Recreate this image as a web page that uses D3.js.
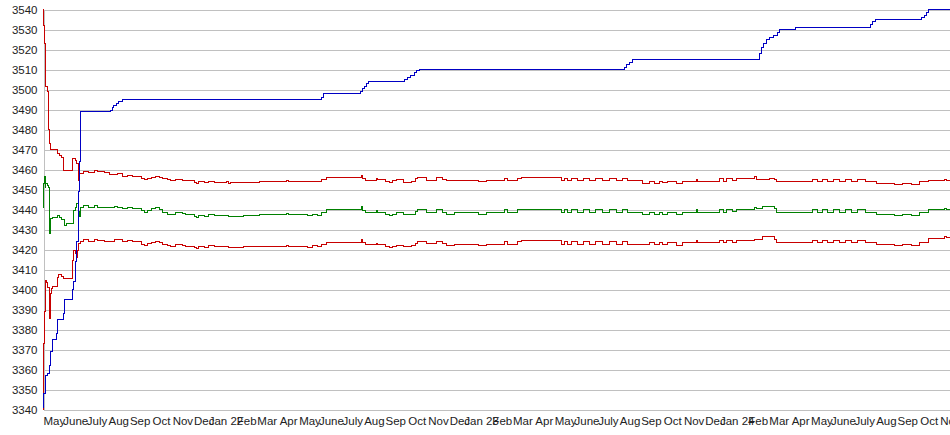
<!DOCTYPE html>
<html>
<head>
<meta charset="utf-8">
<script src="https://cdn.jsdelivr.net/npm/d3@7"></script>
<style>
  body { margin: 0; background: #ffffff; }
  svg { display: block; }
  .axis text { font-family: "Liberation Sans", Arial, sans-serif; fill: #222222; }
  .yaxis text { font-size: 11.5px; }
  .xaxis text { font-size: 11.5px; }
</style>
</head>
<body>
<div id="chart"></div>
<script>
// ---- data ----
var monthNames = ["Jan", "Feb", "Mar", "Apr", "May", "June", "July", "Aug", "Sep", "Oct", "Nov", "Dec"];
var yTicks = [3340, 3350, 3360, 3370, 3380, 3390, 3400, 3410, 3420, 3430, 3440, 3450, 3460, 3470, 3480, 3490, 3500, 3510, 3520, 3530, 3540];
var firstDay = "2021-05-01";
var lastDay = "2024-11-16";

// blue running line: [date, value]
var bluePoints = [
  ["2021-05-01", 3341], ["2021-05-02", 3348], ["2021-05-04", 3357], ["2021-05-08", 3358],
  ["2021-05-10", 3362], ["2021-05-12", 3369], ["2021-05-14", 3372], ["2021-05-15", 3375],
  ["2021-05-20", 3378], ["2021-05-22", 3385], ["2021-05-30", 3388], ["2021-05-31", 3395],
  ["2021-06-12", 3400], ["2021-06-14", 3404], ["2021-06-16", 3414], ["2021-06-18", 3424],
  ["2021-06-20", 3431], ["2021-06-21", 3449], ["2021-06-22", 3464], ["2021-06-23", 3489],
  ["2021-08-05", 3489.5], ["2021-08-08", 3491], ["2021-08-10", 3492], ["2021-08-14", 3493],
  ["2021-08-17", 3494], ["2021-08-22", 3495], ["2022-06-02", 3496], ["2022-06-05", 3497.3],
  ["2022-06-06", 3498], ["2022-07-28", 3499], ["2022-07-31", 3500.3], ["2022-08-03", 3501.7],
  ["2022-08-06", 3503], ["2022-08-09", 3504], ["2022-09-29", 3505], ["2022-10-03", 3506],
  ["2022-10-07", 3507], ["2022-10-13", 3508.3], ["2022-10-16", 3509.3], ["2022-10-20", 3510],
  ["2023-08-09", 3511], ["2023-08-12", 3512.3], ["2023-08-16", 3513.7], ["2023-08-21", 3515],
  ["2024-02-18", 3518], ["2024-02-21", 3521], ["2024-02-24", 3523], ["2024-02-28", 3525],
  ["2024-03-03", 3526], ["2024-03-09", 3527], ["2024-03-14", 3528.7], ["2024-03-17", 3530],
  ["2024-04-10", 3531], ["2024-07-26", 3532.5], ["2024-07-29", 3534], ["2024-08-01", 3535],
  ["2024-10-06", 3536], ["2024-10-11", 3537], ["2024-10-14", 3538.7], ["2024-10-17", 3540],
  ["2024-11-16", 3540]
];

// first weeks, before the three band lines settle
var upperStart = [
  ["2021-05-01", 3540], ["2021-05-02", 3532], ["2021-05-03", 3523], ["2021-05-04", 3501.5],
  ["2021-05-07", 3500.5], ["2021-05-08", 3499], ["2021-05-09", 3480], ["2021-05-10", 3473],
  ["2021-05-12", 3470], ["2021-05-21", 3468], ["2021-05-24", 3467], ["2021-05-28", 3466],
  ["2021-05-30", 3459.5], ["2021-06-12", 3465.5], ["2021-06-17", 3464.5], ["2021-06-18", 3463],
  ["2021-06-20", 3458.5], ["2021-06-21", 3454.5], ["2021-06-22", 3458]
];
var meanStart = [
  ["2021-05-01", 3441], ["2021-05-02", 3453], ["2021-05-03", 3456.5], ["2021-05-04", 3451],
  ["2021-05-05", 3453], ["2021-05-08", 3452], ["2021-05-09", 3451], ["2021-05-10", 3428],
  ["2021-05-11", 3435.5], ["2021-05-15", 3436], ["2021-05-22", 3437], ["2021-05-25", 3436],
  ["2021-05-28", 3435], ["2021-05-31", 3432], ["2021-06-04", 3433], ["2021-06-13", 3439.5],
  ["2021-06-17", 3441], ["2021-06-18", 3443], ["2021-06-20", 3439], ["2021-06-22", 3436.5]
];
var lowerStart = [
  ["2021-05-01", 3340], ["2021-05-02", 3373], ["2021-05-03", 3389], ["2021-05-04", 3404.5],
  ["2021-05-06", 3403.5], ["2021-05-08", 3401], ["2021-05-10", 3385.3], ["2021-05-11", 3398],
  ["2021-05-13", 3400.3], ["2021-05-15", 3401.5], ["2021-05-21", 3406], ["2021-05-23", 3407.5],
  ["2021-05-27", 3406.5], ["2021-05-30", 3405.5], ["2021-06-12", 3414.5], ["2021-06-14", 3419.5],
  ["2021-06-17", 3418], ["2021-06-18", 3416], ["2021-06-19", 3419.5], ["2021-06-21", 3422.8]
];

// after June 2021 the three lines move together
var bandDates = [
  "2021-06-23", "2021-06-28", "2021-07-05", "2021-07-14", "2021-07-18", "2021-07-28", "2021-08-04", "2021-08-11",
  "2021-08-16", "2021-08-23", "2021-08-30", "2021-09-06", "2021-09-16", "2021-09-19", "2021-09-23", "2021-09-27",
  "2021-10-03", "2021-10-09", "2021-10-15", "2021-10-19", "2021-10-26", "2021-10-30", "2021-11-06", "2021-11-16",
  "2021-11-21", "2021-12-03", "2021-12-06", "2021-12-09", "2021-12-18", "2021-12-24", "2022-01-01", "2022-01-18",
  "2022-01-21", "2022-01-24", "2022-02-03", "2022-02-11", "2022-03-06", "2022-04-14", "2022-04-17", "2022-05-14",
  "2022-05-21", "2022-05-28", "2022-06-03", "2022-06-10", "2022-07-30", "2022-07-31", "2022-08-05", "2022-08-20",
  "2022-08-22", "2022-09-02", "2022-09-08", "2022-09-12", "2022-09-18", "2022-09-28", "2022-10-09", "2022-10-15",
  "2022-10-18", "2022-10-31", "2022-11-14", "2022-11-22", "2022-11-28", "2022-12-10", "2023-01-13", "2023-01-24",
  "2023-02-19", "2023-02-23", "2023-03-10", "2023-03-15", "2023-05-11", "2023-05-16", "2023-05-20", "2023-05-26",
  "2023-06-03", "2023-06-12", "2023-06-20", "2023-06-29", "2023-07-09", "2023-07-19", "2023-07-29", "2023-08-07",
  "2023-08-14", "2023-09-04", "2023-09-14", "2023-09-21", "2023-09-28", "2023-10-02", "2023-10-10", "2023-10-22",
  "2023-10-31", "2023-11-20", "2023-11-21", "2023-12-23", "2023-12-29", "2024-01-02", "2024-01-10", "2024-01-16",
  "2024-02-11", "2024-02-14", "2024-02-23", "2024-03-03", "2024-03-11", "2024-03-13", "2024-05-04", "2024-05-11",
  "2024-05-18", "2024-05-25", "2024-06-03", "2024-06-11", "2024-06-20", "2024-06-28", "2024-07-07", "2024-07-19",
  "2024-08-03", "2024-08-29", "2024-09-09", "2024-09-22", "2024-10-03", "2024-10-17", "2024-11-08", "2024-11-11",
  "2024-11-16"
];
var upperBand = [
  3458, 3459, 3458.5, 3459.5, 3459, 3458.5, 3457.5, 3457.3,
  3457.8, 3456.5, 3457, 3456.7, 3456.5, 3455.5, 3455, 3455.3,
  3456, 3456.3, 3456, 3455.3, 3455, 3454.5, 3455, 3454.7,
  3454.3, 3453.3, 3452.8, 3453.8, 3453.3, 3454, 3453.5, 3453.8,
  3453, 3453.3, 3453.3, 3453.5, 3454, 3454.5, 3454, 3453.8,
  3454.2, 3453.8, 3455, 3455.8, 3457, 3455.5, 3454.5, 3455.5,
  3455, 3453.8, 3453.5, 3454.3, 3454.8, 3453.3, 3454, 3455.3,
  3456, 3454.5, 3455.8, 3455, 3454.3, 3454.3, 3454, 3454.5,
  3455.5, 3454.5, 3455.5, 3456, 3454.7, 3455.5, 3454.5, 3455.5,
  3454.5, 3455.5, 3454.5, 3455.5, 3454.5, 3455.5, 3454.5, 3455.5,
  3454.5, 3453.2, 3454.2, 3453.2, 3454.2, 3453.5, 3454.2, 3453.2,
  3454.2, 3455, 3454.2, 3455.3, 3454.2, 3455.3, 3454.5, 3455.3,
  3456.5, 3455, 3455, 3455.3, 3455, 3453.8, 3455, 3454,
  3455, 3454, 3455, 3454, 3455, 3454, 3455, 3454,
  3453, 3452.5, 3453, 3452.5, 3453.8, 3454.3, 3455, 3454.5,
  3454.5
];
var meanBand = [
  3441, 3442, 3441, 3442, 3441.2, 3441, 3441, 3441.7,
  3440.8, 3440.3, 3441, 3440.3, 3440.5, 3439.3, 3438.5, 3439.3,
  3440.3, 3440.8, 3440, 3438.5, 3437.7, 3437.3, 3438.3, 3438,
  3437.5, 3436.7, 3435.8, 3437, 3436.7, 3437.3, 3437, 3437.2,
  3436.3, 3436.7, 3436.5, 3437, 3437.4, 3438, 3437.4, 3437,
  3437.5, 3437, 3438.7, 3440, 3441.5, 3439.5, 3438.3, 3439.3,
  3438.3, 3437.5, 3437.2, 3437.7, 3438.3, 3437.3, 3437.7, 3439,
  3440, 3438.3, 3440, 3438.3, 3437.7, 3438.3, 3437.7, 3438.3,
  3440, 3438.3, 3440, 3440, 3438.3, 3440, 3438.3, 3440,
  3438.3, 3440, 3438.3, 3440, 3438.3, 3440, 3438.3, 3440,
  3438.3, 3437.5, 3438.5, 3437.5, 3438.5, 3437.7, 3438.5, 3437.5,
  3438.5, 3440, 3438.5, 3440, 3438.5, 3440, 3439, 3440,
  3441, 3440.5, 3441.5, 3441.5, 3440.5, 3438.5, 3440, 3438.5,
  3440, 3438.5, 3440, 3438.5, 3440, 3438.5, 3440, 3438.5,
  3437.7, 3437, 3437.7, 3437, 3438.5, 3440, 3440.5, 3440,
  3440
];
var lowerBand = [
  3424, 3425, 3424, 3425, 3424.5, 3424, 3424, 3425,
  3425, 3424, 3424.5, 3424, 3423.8, 3422.7, 3422, 3423,
  3423.5, 3424, 3423.5, 3422.5, 3422, 3421.7, 3422.3, 3422,
  3421.5, 3421.2, 3420.5, 3421.3, 3421.2, 3421.8, 3421.5, 3421.7,
  3420.8, 3421.2, 3421, 3421.3, 3421.5, 3422, 3421.5, 3421.2,
  3421.8, 3421.3, 3422.7, 3423.5, 3425, 3423.5, 3422.5, 3423,
  3422.5, 3421.5, 3421.2, 3421.7, 3422.2, 3421.5, 3421.8, 3423,
  3424, 3422.8, 3424, 3422.8, 3422, 3422.5, 3421.8, 3422.5,
  3424, 3422.5, 3424, 3424.3, 3422.7, 3424, 3422.5, 3424,
  3422.5, 3424, 3422.5, 3424, 3422.5, 3424, 3422.5, 3424,
  3422.5, 3422.3, 3423.3, 3422.3, 3423.3, 3422.5, 3423.3, 3422,
  3423.3, 3424.3, 3423.3, 3424.3, 3423.3, 3424.3, 3423.5, 3424.3,
  3425, 3425, 3426.5, 3426.5, 3425, 3423.3, 3424.3, 3423.3,
  3424.3, 3423.3, 3424.3, 3423.3, 3424.3, 3423.3, 3424.3, 3423.3,
  3422.5, 3422, 3422.5, 3422, 3423.5, 3425.5, 3426.5, 3426,
  3426
];

// makes the step line chart in an empty div
function createStepChart(divId) {
  var width = 950;
  var height = 435;
  var left = 43;
  var top = 9.5;
  var bottom = 409.5;
  var blueColor = "#0000c4";
  var redColor = "#c80000";
  var greenColor = "#008000";
  var gridColor = "#c0c0c0";
  var parse = d3.timeParse("%Y-%m-%d");

  // 1. Add svg to target div.
  var svg = d3.select("#" + divId).append("svg")
    .attr("width", width)
    .attr("height", height);

  // 2. Put the series together.
  function toPoints(list) {
    return list.map(function (d) { return { date: parse(d[0]), value: d[1] }; });
  }
  function withBand(start, band) {
    return toPoints(start).concat(bandDates.map(function (d, i) {
      return { date: parse(d), value: band[i] };
    }));
  }
  var series = [
    { color: redColor, points: withBand(upperStart, upperBand) },
    { color: redColor, points: withBand(lowerStart, lowerBand) },
    { color: greenColor, points: withBand(meanStart, meanBand) },
    { color: blueColor, points: toPoints(bluePoints) }
  ];

  // 3. Make the scales.
  var xScale = d3.scaleTime()
    .domain([parse(firstDay), parse(lastDay)])
    .range([left, width]);
  var yScale = d3.scaleLinear()
    .domain([d3.min(yTicks), d3.max(yTicks)])
    .range([bottom, top]);

  // 4. Grid and y labels.
  var yAxis = d3.axisLeft(yScale)
    .tickValues(yTicks)
    .tickFormat(d3.format("d"))
    .tickSizeInner(-(width - left))
    .tickSizeOuter(0)
    .tickPadding(6);
  var yG = svg.append("g")
    .attr("class", "axis yaxis")
    .attr("transform", "translate(" + (left + 0.5) + ",0)")
    .call(yAxis);
  yG.selectAll("line").attr("stroke", gridColor).attr("shape-rendering", "crispEdges");
  yG.select(".domain").attr("stroke", gridColor).attr("shape-rendering", "crispEdges");
  yG.selectAll("text").attr("dy", "0.36em");

  // 5. Month labels, centred in the middle of each month.
  var months = d3.timeMonth.range(parse(firstDay), parse(lastDay));
  var xAxis = d3.axisBottom(xScale)
    .tickValues(months)
    .tickFormat(function (d) {
      var name = monthNames[d.getMonth()];
      if (d.getMonth() == 0) {
        return name + " " + d3.timeFormat("%y")(d);
      }
      return name;
    })
    .tickSize(0);
  var xG = svg.append("g")
    .attr("class", "axis xaxis")
    .attr("transform", "translate(0,425)")
    .call(xAxis);
  xG.select(".domain").remove();
  xG.selectAll("text")
    .attr("text-anchor", "middle")
    .attr("x", function (d) {
      return (xScale(d3.timeMonth.offset(d, 1)) - xScale(d)) / 2;
    })
    .attr("y", 0)
    .attr("dy", 0);

  // 6. Draw the lines.
  var line = d3.line()
    .curve(d3.curveStepAfter)
    .x(function (d) { return xScale(d.date); })
    .y(function (d) { return yScale(d.value); });
  svg.selectAll("path.series").data(series)
    .enter().append("path")
    .attr("class", "series")
    .attr("fill", "none")
    .attr("stroke", function (d) { return d.color; })
    .attr("stroke-width", 1)
    .attr("shape-rendering", "crispEdges")
    .attr("d", function (d) { return line(d.points); });
}

createStepChart("chart");
</script>
</body>
</html>
